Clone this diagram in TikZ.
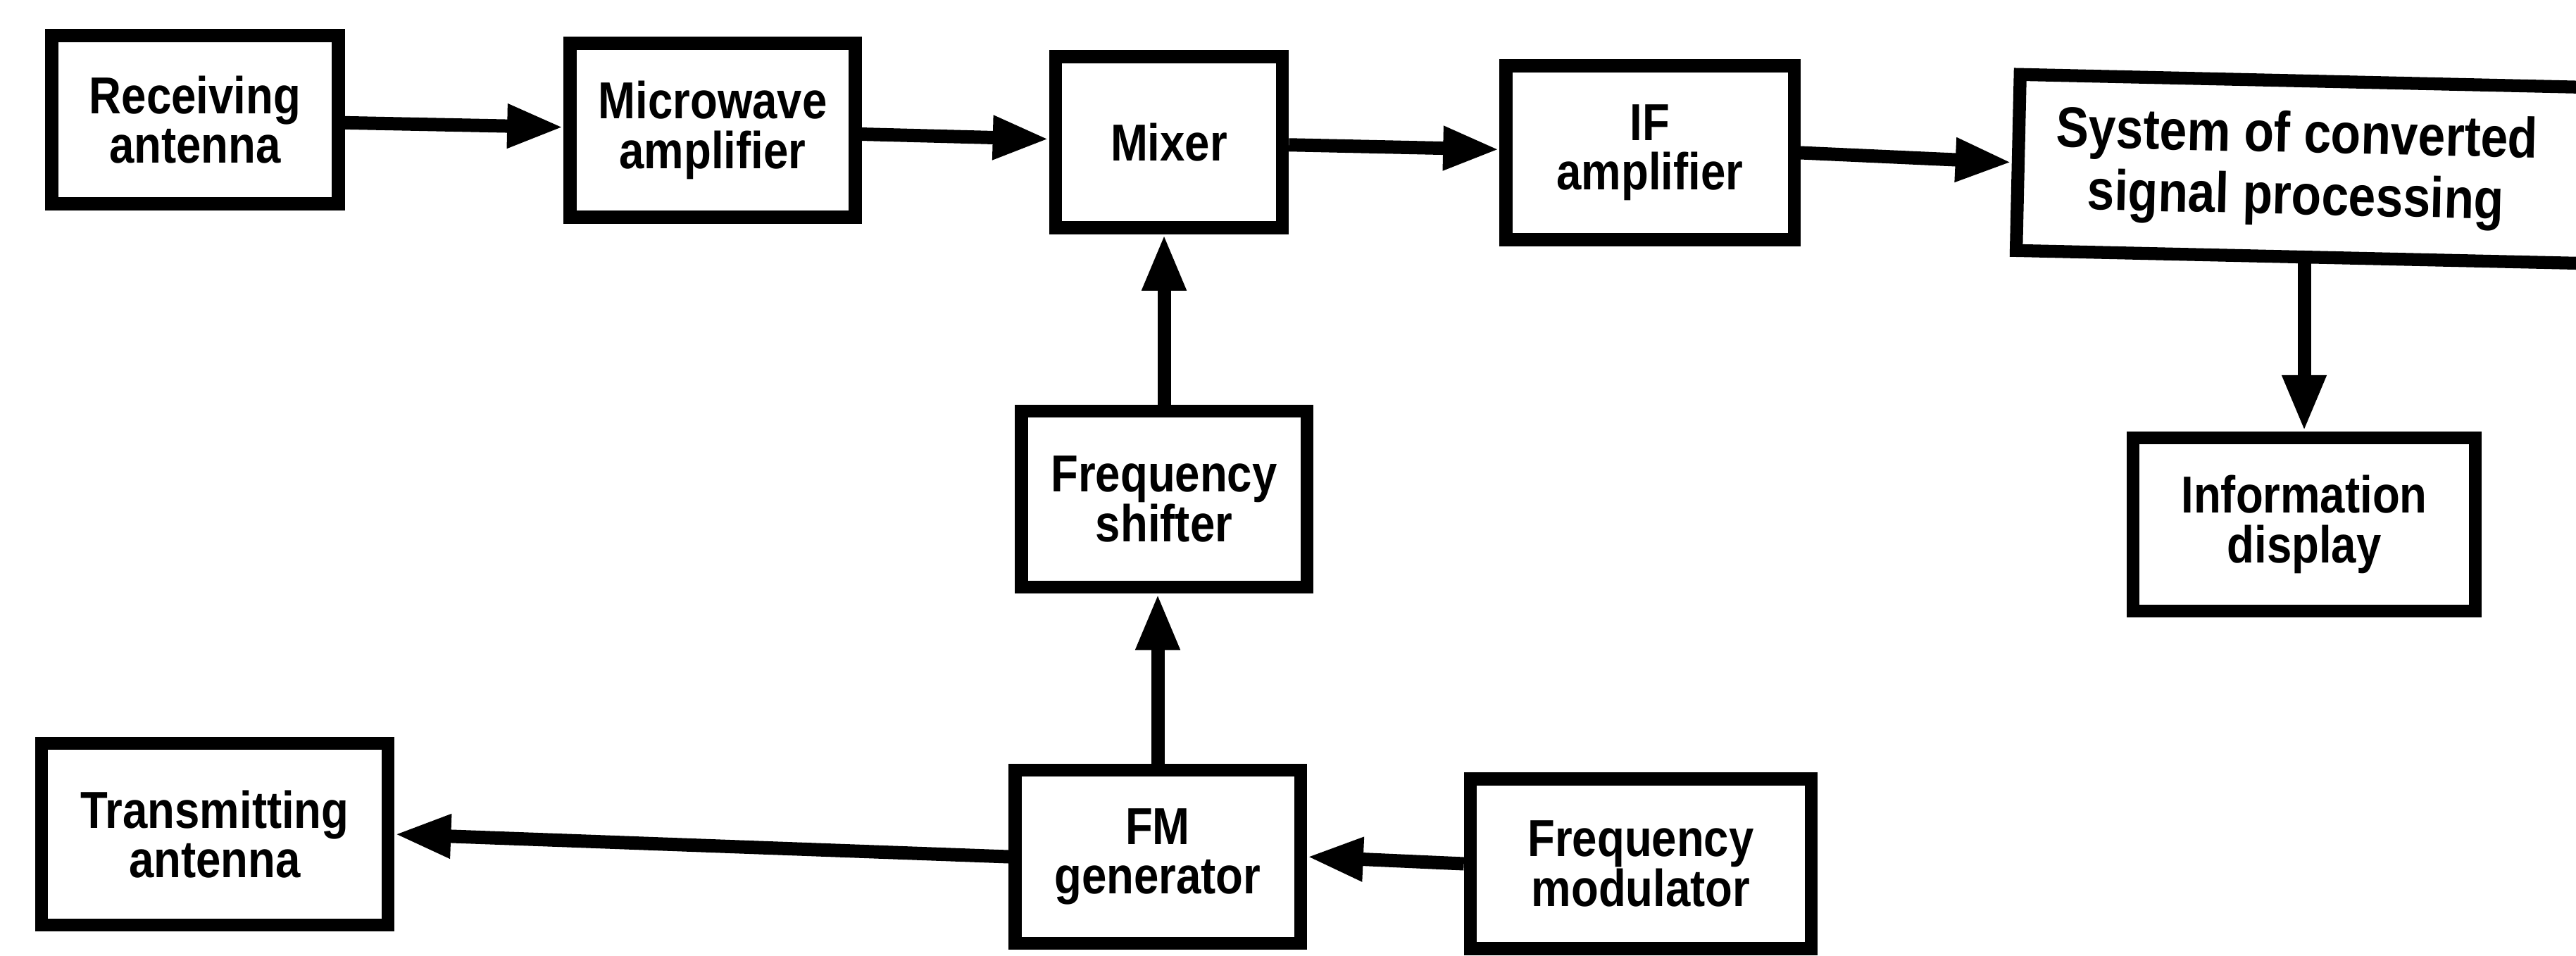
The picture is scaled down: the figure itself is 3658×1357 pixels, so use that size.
\documentclass[tikz,border=0pt]{standalone}
\usepackage{fontspec}
\setmainfont{Liberation Sans}[FakeStretch=0.86]
\usetikzlibrary{arrows.meta}
\begin{document}
\begin{tikzpicture}[x=0.01cm,y=-0.01cm,
  blk/.style={draw=black, line width=5.2pt, fill=none, align=center, inner sep=0pt,
    font=\bfseries\fontsize{21}{20}\selectfont},
  conn/.style={line width=5.4pt, -{Triangle[length=0.8cm,width=0.58cm]}}]
\useasboundingbox (0,0) rectangle (3658,1357);
\node[blk, minimum width=4.07cm, minimum height=2.39cm] (ra) at (277,170) {Receiving\\antenna};
\node[blk, minimum width=4.05cm, minimum height=2.47cm] (ma) at (1012,185) {Microwave\\amplifier};
\node[blk, minimum width=3.22cm, minimum height=2.43cm] (mix) at (1660,202) {Mixer};
\node[blk, minimum width=4.09cm, minimum height=2.47cm] (ifa) at (2343,217) {IF\\amplifier};
\node[blk, minimum width=8.10cm, minimum height=2.50cm, rotate=-1.3,
  font=\bfseries\fontsize{23}{25}\selectfont] (sys) at (3271,240) {\hspace*{-0.2cm}System of converted\\\hspace*{-0.2cm}signal processing};
\node[blk, minimum width=4.86cm, minimum height=2.46cm] (info) at (3272,745) {Information\\display};
\node[blk, minimum width=4.05cm, minimum height=2.50cm] (fs) at (1653,709) {Frequency\\shifter};
\node[blk, minimum width=4.05cm, minimum height=2.46cm] (fm) at (1644,1217) {FM\\generator};
\node[blk, minimum width=4.84cm, minimum height=2.41cm] (fmod) at (2330,1227) {Frequency\\modulator};
\node[blk, minimum width=4.92cm, minimum height=2.58cm] (ta) at (305,1185) {Transmitting\\antenna};
\draw[conn] (ra) -- (ma);
\draw[conn] (ma) -- (mix);
\draw[conn] (mix) -- (ifa);
\draw[conn] (ifa.east) -- (sys.west);
\draw[conn] (info.north |- sys.south) -- (info.north);
\draw[conn] (fs.north) -- (fs.north |- mix.south);
\draw[conn] (fm.north) -- (fm.north |- fs.south);
\draw[conn] (fm.west) -- (ta.east);
\draw[conn] (fmod.west) -- (fm.east);
\end{tikzpicture}
\end{document}
